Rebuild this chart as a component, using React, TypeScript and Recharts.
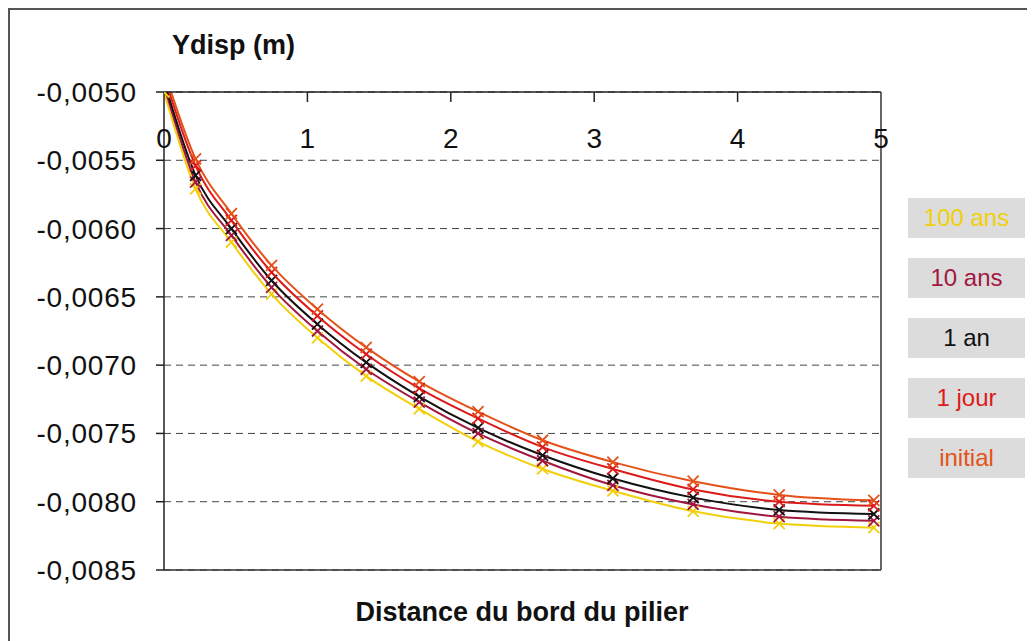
import { LineChart, Line, XAxis, YAxis, CartesianGrid, Legend, ReferenceLine } from "recharts";

// distance from the pier edge (m)
const distances = [0, 0.22, 0.47, 0.75, 1.07, 1.41, 1.78, 2.19, 2.64, 3.13, 3.69, 4.29, 4.95];

// vertical displacement (m) per time step
const ydisp100ans = [-0.005, -0.00571, -0.0061, -0.00648, -0.0068, -0.00708, -0.00732, -0.00756, -0.00776, -0.00792, -0.00807, -0.00816, -0.00819];
const ydisp10ans = [-0.00495, -0.00566, -0.00605, -0.00643, -0.00675, -0.00703, -0.00727, -0.0075, -0.0077, -0.00788, -0.00802, -0.00811, -0.00814];
const ydisp1an = [-0.00492, -0.00561, -0.006, -0.00638, -0.0067, -0.00698, -0.00723, -0.00746, -0.00766, -0.00783, -0.00797, -0.00806, -0.00809];
const ydisp1jour = [-0.00488, -0.00554, -0.00594, -0.00632, -0.00664, -0.00692, -0.00717, -0.00739, -0.0076, -0.00776, -0.00791, -0.008, -0.00803];
const ydispInitial = [-0.00484, -0.00549, -0.00589, -0.00627, -0.00659, -0.00687, -0.00712, -0.00734, -0.00755, -0.00771, -0.00785, -0.00795, -0.00799];

const seriesNames = ["100 ans", "10 ans", "1 an", "1 jour", "initial"];
const seriesValues = [ydisp100ans, ydisp10ans, ydisp1an, ydisp1jour, ydispInitial];
const seriesColors = ["#f2cf0a", "#a3173f", "#111111", "#dd1a1a", "#e4521a"];

const xTicks = [0, 1, 2, 3, 4, 5];
const yTicks = [-0.005, -0.0055, -0.006, -0.0065, -0.007, -0.0075, -0.008, -0.0085];

const data = distances.map((d, i) => {
  const row: Record<string, number> = { x: d };
  seriesNames.forEach((name, s) => {
    row[name] = seriesValues[s][i];
  });
  return row;
});

const FONT = "'Liberation Sans', Arial, Helvetica, sans-serif";
const PLOT_TOP = 84;

const fmt = (v: number) => v.toFixed(4).replace(".", ",");

const TopTick = (props: any) => {
  const { x, payload } = props;
  const v = payload.value;
  return (
    <g>
      {v > 0 && v < 5 && (
        <line x1={x} x2={x} y1={PLOT_TOP} y2={PLOT_TOP + 10} stroke="#222" strokeWidth={1.5} />
      )}
      <text
        x={x}
        y={PLOT_TOP + 46}
        textAnchor="middle"
        dominantBaseline="central"
        fontSize={28}
        fontFamily={FONT}
        fill="#111"
      >
        {v}
      </text>
    </g>
  );
};

const XMark = (props: any) => {
  const { cx, cy, stroke, value, index, dataKey } = props;
  const key = `${dataKey}-${index}`;
  if (cx == null || cy == null || value > -0.005) return <g key={key} />;
  const r = 5.5;
  return (
    <g key={key} stroke={stroke} strokeWidth={1.8}>
      <line x1={cx - r} y1={cy - r} x2={cx + r} y2={cy + r} />
      <line x1={cx - r} y1={cy + r} x2={cx + r} y2={cy - r} />
    </g>
  );
};

const renderLegend = (props: any) => {
  const items = [...(props.payload || [])].sort(
    (a: any, b: any) => seriesNames.indexOf(a.value) - seriesNames.indexOf(b.value)
  );
  return (
    <div>
      {items.map((it: any) => (
        <div
          key={it.value}
          style={{
            width: 117,
            height: 40,
            lineHeight: "40px",
            marginBottom: 20,
            background: "#dcdcdc",
            color: it.color,
            textAlign: "center",
            fontSize: 24,
            fontFamily: FONT,
          }}
        >
          {it.value}
        </div>
      ))}
    </div>
  );
};

export default function App() {
  return (
    <div style={{ position: "relative", width: 1027, height: 633, overflow: "hidden", background: "#fff" }}>
      <div
        style={{
          position: "absolute",
          left: 0,
          top: 0,
          width: 1100,
          height: 700,
          borderLeft: "2px solid #555",
          borderTop: "2px solid #555",
        }}
      />
      <div
        style={{
          position: "absolute",
          left: 164,
          top: 21,
          lineHeight: "32px",
          fontSize: 27,
          fontWeight: "bold",
          fontFamily: FONT,
          color: "#111",
        }}
      >
        Ydisp (m)
      </div>
      <div
        style={{
          position: "absolute",
          left: 0,
          width: 1028,
          top: 588,
          lineHeight: "32px",
          textAlign: "center",
          fontSize: 27,
          fontWeight: "bold",
          fontFamily: FONT,
          color: "#111",
        }}
      >
        Distance du bord du pilier
      </div>
      <LineChart
        width={1027}
        height={633}
        data={data}
        margin={{ top: 54, right: 154, bottom: 71, left: 0 }}
        style={{ position: "absolute", left: 0, top: 0 }}
      >
        <CartesianGrid vertical={false} stroke="#444" strokeDasharray="7 5" />
        <XAxis
          dataKey="x"
          type="number"
          orientation="top"
          domain={[0, 5]}
          ticks={xTicks}
          height={30}
          tickLine={false}
          tick={<TopTick />}
          axisLine={{ stroke: "#222", strokeWidth: 1.5 }}
          allowDataOverflow
        />
        <YAxis
          type="number"
          domain={[-0.0085, -0.005]}
          ticks={yTicks}
          width={156}
          allowDataOverflow
          tickFormatter={fmt}
          tickSize={8}
          tickMargin={19}
          tick={{ fontSize: 28, fontFamily: FONT, fill: "#111", letterSpacing: 0.8 }}
          tickLine={{ stroke: "#222", strokeWidth: 1.5 }}
          axisLine={{ stroke: "#222", strokeWidth: 1.5 }}
        />
        <ReferenceLine y={-0.0085} stroke="#333" strokeWidth={1.5} />
        <ReferenceLine x={5} stroke="#333" strokeWidth={1.5} />
        {seriesNames.map((name, s) => (
          <Line
            key={name}
            dataKey={name}
            name={name}
            type="monotone"
            stroke={seriesColors[s]}
            strokeWidth={2}
            dot={<XMark />}
            activeDot={false}
            isAnimationActive={false}
          />
        ))}
        <Legend
          layout="vertical"
          align="center"
          verticalAlign="middle"
          content={renderLegend}
          wrapperStyle={{ left: 900, top: 190, width: 117 }}
        />
      </LineChart>
    </div>
  );
}
